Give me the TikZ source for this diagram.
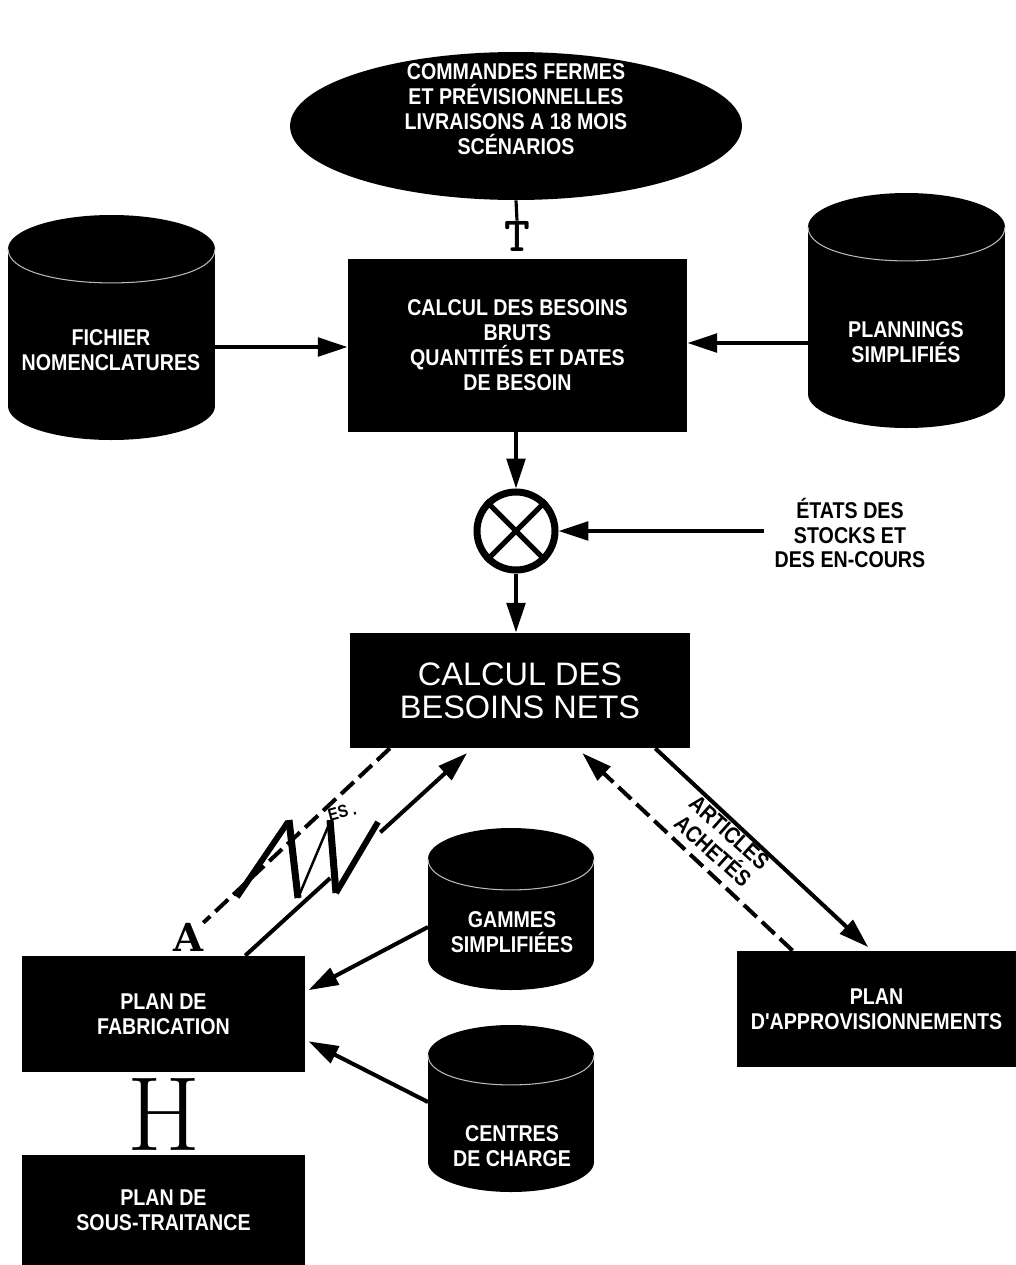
\documentclass[tikz,border=0pt]{standalone}
\usepackage{fontspec}
\newfontfamily\condsans[FakeStretch=0.86]{Liberation Sans}
\newfontfamily\plainsans{Liberation Sans}
\newfontfamily\slabfont{DejaVu Serif}
\usetikzlibrary{shapes.geometric,arrows.meta,positioning,calc}

% drum: centre x, top y, bottom y, x radius, y radius (pixels)
\newcommand{\drum}[5]{%
  \fill (#1-#4,#2+#5) rectangle (#1+#4,#3-#5);
  \fill (#1,#2+#5) ellipse [x radius=#4, y radius=#5];
  \fill (#1,#3-#5) ellipse [x radius=#4, y radius=#5];
  \draw[seam] (#1-#4,#2+#5) .. controls (#1-#4,#2+2.33*#5) and (#1+#4,#2+2.33*#5) .. (#1+#4,#2+#5);
}

\begin{document}
\begin{tikzpicture}[
    x=0.02cm, y=-0.02cm,
    block/.style={
        rectangle,
        fill=black,
        inner sep=0pt,
        text=white,
        align=center,
        font=\condsans\bfseries\fontsize{13}{14.2}\selectfont
    },
    whitetext/.style={inner sep=0pt, align=center, text=white,
        font=\condsans\bfseries\fontsize{13}{14.2}\selectfont},
    blacktext/.style={whitetext, text=black, inner sep=6pt},
    arrow/.style={-{Triangle[length=17pt,width=10.5pt]}, line width=2.3pt},
    dasharrow/.style={arrow, dash pattern=on 10pt off 4pt},
    dashline/.style={line width=2.3pt, dash pattern=on 10pt off 4pt},
    seam/.style={gray!55, line width=0.6pt}
]
    \useasboundingbox (0,0) rectangle (1016,1265);

    % Orders
    \node[ellipse, fill=black, inner sep=0pt, minimum width=9.04cm, minimum height=2.96cm] (cmd) at (516,126) {};
    \node[whitetext] (cmdtxt) at ($(cmd.center)+(0,-17)$) {
        COMMANDES FERMES\\
        ET PRÉVISIONNELLES\\
        LIVRAISONS A 18 MOIS\\
        SCÉNARIOS
    };
    \node[font=\ttfamily\bfseries\fontsize{28}{28}\selectfont, inner sep=0pt] (tee) at (517,236) {T};
    \draw[line width=1.8pt] (cmd.south) -- (tee.north);

    % Gross needs
    \node[block, minimum width=6.78cm, minimum height=3.46cm] (brut) at (517.5,345.5) {
        CALCUL DES BESOINS\\
        BRUTS\\
        QUANTITÉS ET DATES\\
        DE BESOIN
    };

    % Files
    \drum{111.5}{215}{440}{103.5}{34}
    \node[whitetext] (nomen) at (111,350) {FICHIER\\NOMENCLATURES};
    \coordinate (nomen-e) at (215,347);
    \drum{906.5}{193}{428}{98.5}{34}
    \node[whitetext] (plann) at (906,342) {PLANNINGS\\SIMPLIFIÉS};
    \coordinate (plann-w) at (808,343);
    \draw[arrow] (nomen-e) -- (nomen-e -| brut.west);
    \draw[arrow] (plann-w) -- (plann-w -| brut.east);

    % Stocks
    \node[circle, draw, line width=4pt, minimum size=1.56cm, inner sep=0pt] (mix) at (516,531) {};
    \draw[line width=3pt] (mix.45) -- (mix.225) (mix.135) -- (mix.315);
    \node[blacktext] (etats) at (850,533) {ÉTATS DES\\STOCKS ET\\DES EN-COURS};
    \draw[arrow] (brut.south -| mix) -- (mix.north);
    \draw[arrow] (mix.east -| etats.west) -- (mix.east);

    % Net needs
    \node[rectangle, fill=black, text=white, align=center, inner sep=0pt,
          minimum width=6.8cm, minimum height=2.3cm,
          font=\plainsans\fontsize{18.5}{18.7}\selectfont] (nets) at (520,690.5) {
        CALCUL DES\\
        BESOINS NETS
    };
    \draw[arrow] (mix.south) -- (mix.south |- nets.north);

    % Plans
    \node[block, minimum width=5.66cm, minimum height=2.32cm] (fab) at (163.5,1014) {PLAN DE\\FABRICATION};
    \node[block, minimum width=5.66cm, minimum height=2.2cm] (sst) at (163.5,1210) {PLAN DE\\SOUS-TRAITANCE};
    \node[font=\rmfamily\fontsize{60}{60}\selectfont, inner sep=0pt] (hh) at (164,1114) {H};
    \node[block, minimum width=5.58cm, minimum height=2.32cm] (appro) at (876.5,1009) {PLAN\\D'APPROVISIONNEMENTS};

    % Routings and work centres
    \drum{511}{828}{990}{83}{31}
    \node[whitetext] (gammes) at (512,932) {GAMMES\\SIMPLIFIÉES};
    \coordinate (gammes-w) at (428,927);
    \drum{511}{1025}{1192}{83}{30}
    \node[whitetext] (centres) at (512,1146) {CENTRES\\DE CHARGE};
    \coordinate (centres-w) at (428,1102);
    \draw[arrow, shorten >=2pt] (gammes-w) -- ($(fab.north east)!0.31!(fab.south east)$);
    \draw[arrow, shorten >=2pt] (centres-w) -- ($(fab.north east)!0.72!(fab.south east)$);

    % Purchased items
    \draw[arrow, shorten >=3pt] ($(nets.south west)!0.897!(nets.south east)$) -- ($(appro.north west)!0.484!(appro.north east)$);
    \draw[dasharrow, shorten >=4pt] ($(appro.north west)!0.2!(appro.north east)$) -- ($(nets.south west)!0.668!(nets.south east)$);
    \node[blacktext, inner sep=0pt, rotate=-42] (achat) at (721,842) {ARTICLES\\ACHETÉS};

    % Manufactured items
    \node[font=\slabfont\bfseries\fontsize{22}{22}\selectfont, inner sep=0pt] (aa) at (188,937) {A};
    \path ($(fab.north west)!0.788!(fab.north east)$) coordinate (fab-top)
          ($(nets.south west)!0.36!(nets.south east)$) coordinate (nets-foot);
    \draw[line width=2.3pt] (fab-top) -- ($(fab-top)!0.374!(nets-foot)$);
    \draw[arrow, shorten >=4pt] ($(fab-top)!0.595!(nets-foot)$) -- (nets-foot);
    \draw[dashline] ($(nets.south west)!0.118!(nets.south east)$) -- (aa);
    \node[font=\condsans\bfseries\fontsize{10}{10}\selectfont, inner sep=0pt, rotate=15] (es) at (342,812) {ES .};
    \draw[line width=3.4pt] (237,897) -- (288,822);
    \draw[line width=4pt] (289,820) -- (298,898);
    \draw[line width=1.4pt] (298,898) -- (330,822);
    \draw[line width=4pt] (330,820) -- (336,893);
    \draw[line width=3.4pt] (336,893) -- (378,822);
\end{tikzpicture}
\end{document}
